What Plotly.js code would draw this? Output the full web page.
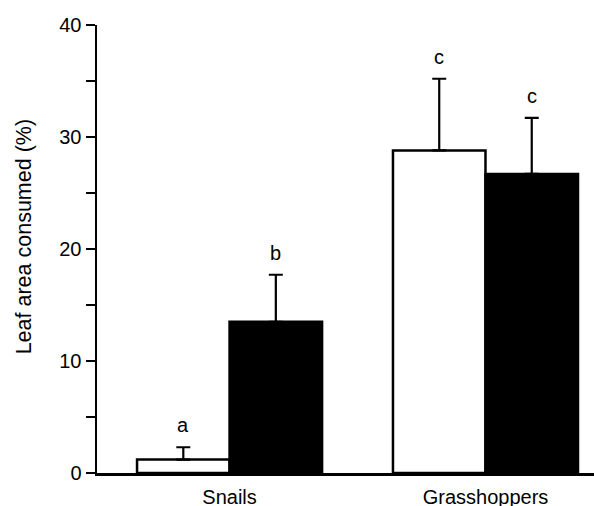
<!DOCTYPE html>
<html>
<head>
<meta charset="utf-8">
<script src="https://cdn.plot.ly/plotly-3.0.1.min.js"></script>
<style>html,body{margin:0;padding:0;background:#fff;}#chart{width:594px;height:506px;}</style>
</head>
<body>
<div id="chart"></div>
<script>
const categories = ['Snails', 'Grasshoppers'];
const whiteValues = [1.2, 28.8];
const whiteErrors = [1.1, 6.4];
const blackValues = [13.5, 26.7];
const blackErrors = [4.2, 5.0];
const whiteLetters = ['a', 'c'];
const blackLetters = ['b', 'c'];
const yTitle = 'Leaf area consumed (%)';

const FONT = 'Liberation Sans, Arial, sans-serif';
const bargap = 0.277;
const barW = (1 - bargap) / 2;

const errStyle = (arr) => ({
  type: 'data', array: arr, arrayminus: arr.map(() => 0), symmetric: false,
  color: '#000', thickness: 2.2, width: 7
});

const traces = [
  {type: 'bar', x: categories, y: whiteValues, name: 'white',
   marker: {color: '#fff', line: {color: '#000', width: 2.5}},
   error_y: errStyle(whiteErrors)},
  {type: 'bar', x: categories, y: blackValues, name: 'black',
   marker: {color: '#000', line: {color: '#000', width: 2.5}},
   error_y: errStyle(blackErrors)}
];

const annotations = [];
categories.forEach((c, i) => {
  annotations.push({x: i - barW / 2, y: whiteValues[i] + whiteErrors[i], xref: 'x', yref: 'y',
    text: whiteLetters[i], showarrow: false, yanchor: 'bottom', yshift: 9,
    font: {family: FONT, size: 20, color: '#000'}});
  annotations.push({x: i + barW / 2, y: blackValues[i] + blackErrors[i], xref: 'x', yref: 'y',
    text: blackLetters[i], showarrow: false, yanchor: 'bottom', yshift: 9,
    font: {family: FONT, size: 20, color: '#000'}});
});
// y-axis title as a rotated annotation
annotations.push({xref: 'paper', yref: 'paper', x: 0, y: 0.526, xshift: -73,
  xanchor: 'center', yanchor: 'middle', textangle: -90, showarrow: false,
  text: yTitle, font: {family: FONT, size: 21.5, color: '#000'}});

const layout = {
  width: 594, height: 506,
  margin: {l: 97, r: 0, t: 25, b: 33},
  paper_bgcolor: '#fff', plot_bgcolor: '#fff',
  showlegend: false,
  barmode: 'group', bargap: bargap, bargroupgap: 0,
  font: {family: FONT, size: 20, color: '#000'},
  xaxis: {
    type: 'category', range: [-0.518, 1.424],
    showline: true, linecolor: '#000', linewidth: 2.5,
    ticks: '', showgrid: false, zeroline: false,
    ticklabelstandoff: 4,
    tickfont: {family: FONT, size: 20, color: '#000'}
  },
  yaxis: {
    range: [0, 40], tickvals: [0, 10, 20, 30, 40],
    showline: true, linecolor: '#000', linewidth: 2.5,
    ticks: 'outside', ticklen: 9, tickwidth: 2.2, tickcolor: '#000',
    minor: {tickvals: [5, 15, 25, 35], ticks: 'outside', ticklen: 9, tickwidth: 2.2, tickcolor: '#000', showgrid: false},
    showgrid: false, zeroline: false,
    tickfont: {family: FONT, size: 20, color: '#000'}
  },
  annotations: annotations
};

Plotly.newPlot('chart', traces, layout, {displayModeBar: false, staticPlot: true});
</script>
</body>
</html>
